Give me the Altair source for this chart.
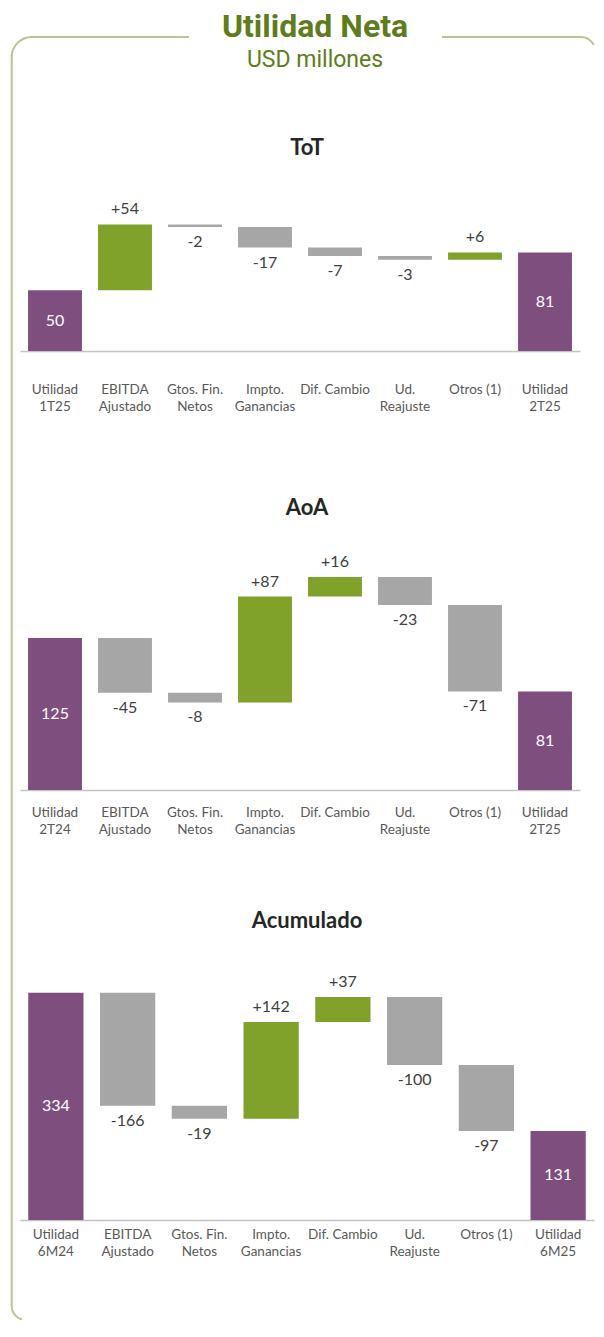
import altair as alt
import pandas as pd

# ---------------- data ----------------
main_title = ["Utilidad Neta"]
main_subtitle = ["USD millones"]
panel_titles = ["ToT", "AoA", "Acumulado"]

cats_tot = ["Utilidad|1T25", "EBITDA|Ajustado", "Gtos. Fin.|Netos", "Impto.|Ganancias",
            "Dif. Cambio", "Ud.|Reajuste", "Otros (1)", "Utilidad|2T25"]
vals_tot = [50, 54, -2, -17, -7, -3, 6, 81]

cats_aoa = ["Utilidad|2T24", "EBITDA|Ajustado", "Gtos. Fin.|Netos", "Impto.|Ganancias",
            "Dif. Cambio", "Ud.|Reajuste", "Otros (1)", "Utilidad|2T25"]
vals_aoa = [125, -45, -8, 87, 16, -23, -71, 81]

cats_acu = ["Utilidad|6M24", "EBITDA|Ajustado", "Gtos. Fin.|Netos", "Impto.|Ganancias",
            "Dif. Cambio", "Ud.|Reajuste", "Otros (1)", "Utilidad|6M25"]
vals_acu = [334, -166, -19, 142, 37, -100, -97, 131]

# ---------------- style ----------------
PURPLE = "#7e4f7e"
GREEN = "#80a12a"
GRAY = "#a6a6a6"
TITLE_GREEN = "#5e7c1c"
FRAME = "#b7c493"
FONT = "Lato"


def build(cats, vals):
    rows = []
    run = 0
    n = len(cats)
    for i, (c, v) in enumerate(zip(cats, vals)):
        if i == 0 or i == n - 1:
            start, end, kind, lab = 0, v, "total", str(v)
            run = v
        else:
            start, end = run, run + v
            run = end
            kind = "pos" if v > 0 else "neg"
            lab = f"{v:+d}"
        rows.append(dict(cat=c, start=start, end=end, mid=(start + end) / 2,
                         kind=kind, lab=lab))
    return pd.DataFrame(rows)


def panel(title, cats, vals, width, height, ymax, label_pad, title_y, header=None):
    df = build(cats, vals)
    xenc = alt.X(
        "cat:N", sort=cats,
        scale=alt.Scale(paddingInner=0.23, paddingOuter=0.115),
        axis=alt.Axis(title=None, labelExpr="split(datum.label, '|')", labelAngle=0,
                      ticks=False, tickSize=0, labelPadding=label_pad,
                      labelBaseline="alphabetic", labelFont=FONT, labelFontSize=13.5,
                      labelColor="#595959", labelLineHeight=17.5,
                      domainColor="#c3c3c3", domainWidth=1.5, grid=False),
    )
    yscale = alt.Scale(domain=[0, ymax], nice=False, zero=True)
    base = alt.Chart(df)
    bars = base.mark_bar().encode(
        x=xenc,
        y=alt.Y("start:Q", scale=yscale, axis=None),
        y2="end:Q",
        color=alt.Color("kind:N",
                        scale=alt.Scale(domain=["total", "pos", "neg"],
                                        range=[PURPLE, GREEN, GRAY]),
                        legend=None),
    )
    pos_t = base.transform_filter("datum.kind == 'pos'").mark_text(
        dy=-15, font=FONT, fontSize=16, color="#404040", baseline="middle"
    ).encode(x=xenc, y=alt.Y("end:Q", scale=yscale, axis=None), text="lab:N")
    neg_t = base.transform_filter("datum.kind == 'neg'").mark_text(
        dy=15, font=FONT, fontSize=16, color="#404040", baseline="middle"
    ).encode(x=xenc, y=alt.Y("end:Q", scale=yscale, axis=None), text="lab:N")
    tot_t = base.transform_filter("datum.kind == 'total'").mark_text(
        font=FONT, fontSize=16, color="white", baseline="middle"
    ).encode(x=xenc, y=alt.Y("mid:Q", scale=yscale, axis=None), text="lab:N")
    ttl = alt.Chart(pd.DataFrame({"t": [title]})).mark_text(
        font=FONT, fontWeight="bold", fontSize=22, color="#262626", baseline="middle"
    ).encode(x=alt.value(287), y=alt.value(title_y), text="t:N")
    layers = []
    if header is not None:
        layers += header
    layers += [bars, pos_t, neg_t, tot_t, ttl]
    return alt.layer(*layers).properties(width=width, height=height)


one = pd.DataFrame({"a": [0]})
# invisible white anchor fixing the top-left of the canvas
anchor = alt.Chart(one).mark_rect(fill="white").encode(
    x=alt.value(-12), x2=alt.value(-2), y=alt.value(-197), y2=alt.value(-180))
# rounded frame
frame = alt.Chart(one).mark_rect(
    fill="white", fillOpacity=0, stroke=FRAME, strokeWidth=2,
    cornerRadiusTopLeft=20, cornerRadiusTopRight=14, cornerRadiusBottomLeft=14,
    cornerRadiusBottomRight=0).encode(
    x=alt.value(-8.3), x2=alt.value(575), y=alt.value(-168), y2=alt.value(1115))
# white masks: gap behind the title, right edge and bottom edge (out of view)
gap = alt.Chart(one).mark_rect(fill="white").encode(
    x=alt.value(169), x2=alt.value(422), y=alt.value(-176), y2=alt.value(-160))
mask_r = alt.Chart(one).mark_rect(fill="white").encode(
    x=alt.value(571), x2=alt.value(576), y=alt.value(-160), y2=alt.value(1117))
mask_b = alt.Chart(one).mark_rect(fill="white").encode(
    x=alt.value(2), x2=alt.value(576), y=alt.value(1112), y2=alt.value(1117))
head1 = alt.Chart(pd.DataFrame({"t": main_title})).mark_text(
    font="Roboto", fontWeight="bold", fontSize=32, color=TITLE_GREEN,
    baseline="alphabetic").encode(x=alt.value(295), y=alt.value(-168), text="t:N")
head2 = alt.Chart(pd.DataFrame({"t": main_subtitle})).mark_text(
    font="Roboto", fontSize=23, color=TITLE_GREEN,
    baseline="alphabetic").encode(x=alt.value(295), y=alt.value(-138), text="t:N")

p1 = panel(panel_titles[0], cats_tot, vals_tot, 560, 146, 120, 42, -57,
           header=[anchor, frame, gap, mask_r, mask_b, head1, head2])
p2 = panel(panel_titles[1], cats_aoa, vals_aoa, 560, 239, 196.4, 26, -43)
p3 = panel(panel_titles[2], cats_acu, vals_acu, 574, 230, 338.2, 18, -69)

chart = alt.vconcat(p1, p2, p3, spacing=200, bounds="flush").properties(
    padding=0
).resolve_scale(color="shared").configure_view(stroke=None)

chart.save("out.html", embed_options={"renderer": "svg", "actions": False})
